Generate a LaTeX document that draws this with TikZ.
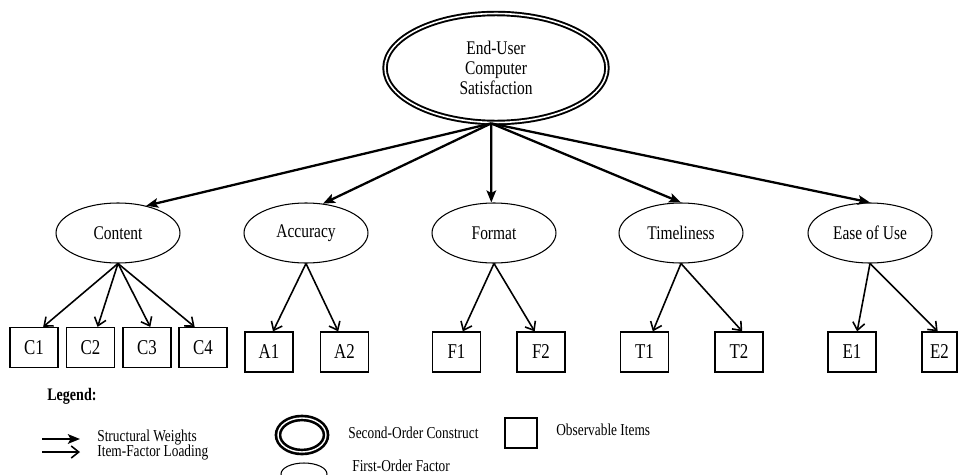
\documentclass[tikz,border=0pt]{standalone}
\usepackage{fontspec}
\setmainfont{Liberation Serif}[FakeStretch=0.8]
\usetikzlibrary{arrows.meta,shapes.geometric}
\tikzset{
  construct/.style={ellipse, draw, double, line width=1.1pt, double distance=0.9pt, inner sep=0pt, align=center},
  factor/.style={ellipse, draw, line width=0.6pt, inner sep=0pt, minimum width=2.48cm, minimum height=1.2cm, font=\fontsize{11}{13}\selectfont},
  item/.style={rectangle, draw, line width=0.7pt, inner sep=0pt, minimum width=0.96cm, minimum height=0.8cm, font=\fontsize{12}{14}\selectfont},
  structural/.style={line width=1.3pt, -{Stealth[length=2.4mm,width=1.9mm,inset=0.5mm]}},
  loading/.style={line width=0.9pt, -{Straight Barb[length=1.5mm,width=2.4mm]}},
  legendtext/.style={anchor=west, inner sep=0pt, font=\fontsize{9.5}{11}\selectfont}
}

\begin{document}
\begin{tikzpicture}[x=0.02cm, y=-0.02cm]
				\useasboundingbox (0,0) rectangle (958,474);
				
				\node[construct, minimum width=4.44cm, minimum height=2.18cm, font=\fontsize{11}{11.3}\selectfont] (ecs) at (496,68) {End-User\\Computer\\Satisfaction};
				
				\node[factor] (content) at (118,233) {Content};
				\node[factor] (accuracy) at (306,233) {Accuracy};
				\node[factor] (format) at (494,233) {Format};
				\node[factor] (timeliness) at (681,233) {Timeliness};
				\node[factor] (ease) at (870,233) {Ease of Use};
				
				\draw[structural] (ecs.265) -- (content.44);
				\draw[structural] (ecs.265) -- (accuracy.60);
				\draw[structural] (ecs.265) -- (format.95);
				\draw[structural] (ecs.265) -- (timeliness.north);
				\draw[structural] (ecs.265) -- (ease.north);
				
				\node[item] (c1) at (34,347.5) {C1};
				\node[item] (c2) at (90.5,347.5) {C2};
				\node[item] (c3) at (147,347.5) {C3};
				\node[item] (c4) at (203,347.5) {C4};
				\node[item] (a1) at (269,352) {A1};
				\node[item] (a2) at (344.5,352) {A2};
				\node[item] (f1) at (456.5,352) {F1};
				\node[item] (f2) at (541,352) {F2};
				\node[item] (t1) at (644.5,352) {T1};
				\node[item] (t2) at (739,352) {T2};
				\node[item] (e1) at (852,352) {E1};
				\node[item, minimum width=0.7cm] (e2) at (939.5,352) {E2};
				
				\draw[loading] (content.south) -- (c1.66);
				\draw[loading] (content.south) -- (c2.71);
				\draw[loading] (content.south) -- (c3.81);
				\draw[loading] (content.south) -- (c4.112);
				\draw[loading] (accuracy.south) -- (a1.79);
				\draw[loading] (accuracy.south) -- (a2.107);
				\draw[loading] (format.south) -- (f1.73);
				\draw[loading] (format.south) -- (f2.107);
				\draw[loading] (timeliness.south) -- (t1.68);
				\draw[loading] (timeliness.south) -- (t2.81);
				\draw[loading] (ease.south) -- (e1.76);
				\draw[loading] (ease.south) -- (e2.95);
				
				\node[legendtext, font=\fontsize{10}{12}\selectfont\bfseries] (legend) at (47,396) {Legend:};
				
				\coordinate (sw0) at (42,439);
				\coordinate (sw1) at (80,439);
				\coordinate (il0) at (42,452);
				\coordinate (il1) at (80,452);
				\draw[structural] (sw0) -- (sw1);
				\draw[loading] (il0) -- (il1);
				\node[legendtext] (swtext) at (97,438) {Structural Weights};
				\node[legendtext] (iltext) at (97,453) {Item-Factor Loading};
				
				\node[construct, line width=1.5pt, double distance=0.8pt, minimum width=0.96cm, minimum height=0.68cm] (soc) at (302,435) {};
				\node[legendtext] (soctext) at (348,433) {Second-Order Construct};
				\node[factor, minimum width=0.92cm, minimum height=0.44cm] (fof) at (304,474) {};
				\node[legendtext] (foftext) at (352,466) {First-Order Factor};
				
				\node[item, minimum width=0.64cm, minimum height=0.6cm] (obs) at (521,433) {};
				\node[legendtext] (obstext) at (556,430) {Observable Items};
			\end{tikzpicture}
\end{document}
